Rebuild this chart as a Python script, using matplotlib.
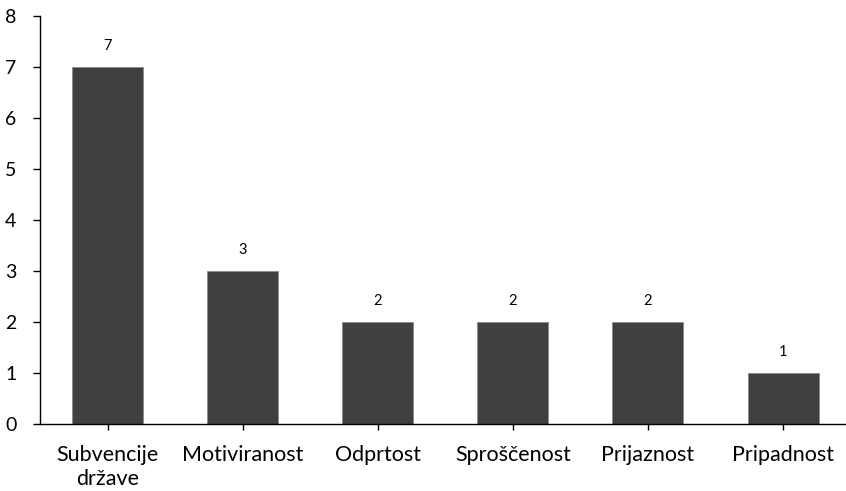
import matplotlib
matplotlib.use('Agg')
import matplotlib.pyplot as plt

plt.rcParams['font.family'] = ['Lato', 'DejaVu Sans']

categories = ['Subvencije\ndržave', 'Motiviranost', 'Odprtost', 'Sproščenost', 'Prijaznost', 'Pripadnost']
values = [7, 3, 2, 2, 2, 1]

W, H = 846, 491
fig = plt.figure(figsize=(W / 100, H / 100), dpi=100)
left, right = 40 / W, 1.0
top, bottom = 15.7 / H, 423.7 / H
ax = fig.add_axes([left, 1 - bottom, right - left, bottom - top])

x = range(len(categories))
bars = ax.bar(x, values, width=0.525, color='#404040', edgecolor='#8a8a8a', linewidth=0.6)

# value labels above the bars
for xi, v in zip(x, values):
    ax.text(xi, v + 0.27, str(v), ha='center', va='bottom', fontsize=10.5, color='black')

ax.set_xlim(-0.5, (W - 40) / 135.1 - 0.5)
ax.set_ylim(0, 8)
ax.set_yticks(range(0, 9))
ax.set_xticks(list(x))
ax.set_xticklabels(categories, fontsize=15.5, linespacing=1.3)
ax.tick_params(axis='y', labelsize=14, length=5, width=1, direction='out', pad=12)
ax.tick_params(axis='x', length=4, width=1, direction='out', pad=11)

for s in ['top', 'right']:
    ax.spines[s].set_visible(False)
for s in ['left', 'bottom']:
    ax.spines[s].set_linewidth(1)
    ax.spines[s].set_color('black')

fig.savefig('out.png', dpi=100)
